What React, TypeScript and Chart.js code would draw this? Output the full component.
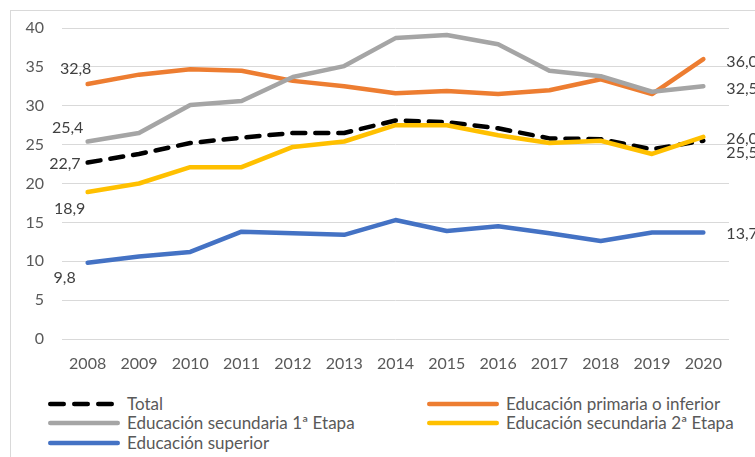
import React, { useEffect, useRef } from "react";
import { Chart, registerables } from "chart.js";

Chart.register(...registerables);

const years = ["2008", "2009", "2010", "2011", "2012", "2013", "2014", "2015", "2016", "2017", "2018", "2019", "2020"];
const total = [22.7, 23.8, 25.2, 25.9, 26.5, 26.5, 28.1, 27.9, 27.1, 25.8, 25.7, 24.4, 25.5];
const primaria = [32.8, 34.0, 34.7, 34.5, 33.2, 32.5, 31.6, 31.9, 31.5, 32.0, 33.4, 31.5, 36.0];
const secundaria1 = [25.4, 26.5, 30.1, 30.6, 33.7, 35.1, 38.7, 39.1, 37.9, 34.5, 33.8, 31.8, 32.5];
const secundaria2 = [18.9, 20.0, 22.1, 22.1, 24.7, 25.4, 27.5, 27.5, 26.2, 25.2, 25.5, 23.8, 26.0];
const superior = [9.8, 10.6, 11.2, 13.8, 13.6, 13.4, 15.3, 13.9, 14.5, 13.6, 12.6, 13.7, 13.7];
const seriesNames = [
  "Total",
  "Educación primaria o inferior",
  "Educación secundaria 1ª Etapa",
  "Educación secundaria 2ª Etapa",
  "Educación superior",
];
const yTicks = [0, 5, 10, 15, 20, 25, 30, 35, 40];

const colors = ["#000000", "#ED7D31", "#A5A5A5", "#FFC000", "#4472C4"];
const FONT = "Lato, 'Open Sans', sans-serif";

// label placement per dataset: [first point, last point]
const labelPlacement = [
  [{ dx: -7, dy: 1, align: "right" }, { dx: 23, dy: 12, align: "left" }],
  [{ dx: -12, dy: -15, align: "center" }, { dx: 23, dy: 3, align: "left" }],
  [{ dx: -20, dy: -14, align: "center" }, { dx: 23, dy: 3, align: "left" }],
  [{ dx: -18, dy: 17, align: "center" }, { dx: 23, dy: 2, align: "left" }],
  [{ dx: -23, dy: 15, align: "center" }, { dx: 23, dy: 1, align: "left" }],
];

const fmt = (v: number) => v.toFixed(1).replace(".", ",");

const labelsPlugin = {
  id: "endLabels",
  afterDatasetsDraw(chart: any) {
    const ctx = chart.ctx;
    const xs = chart.scales.x;
    const ys = chart.scales.y;
    ctx.save();
    ctx.font = `16px ${FONT}`;
    ctx.fillStyle = "#404040";
    ctx.textBaseline = "middle";
    chart.data.datasets.forEach((ds: any, i: number) => {
      const data = ds.data as number[];
      const idxs = [0, data.length - 1];
      idxs.forEach((idx, k) => {
        const p = labelPlacement[i][k];
        const x = xs.getPixelForValue(idx);
        const y = ys.getPixelForValue(data[idx]);
        ctx.textAlign = p.align;
        ctx.fillText(fmt(data[idx]), x + p.dx, y + p.dy);
      });
    });
    ctx.restore();
  },
};

const legendItems = [
  { i: 0, x: 48, y: 404 },
  { i: 1, x: 427, y: 404 },
  { i: 2, x: 48, y: 423 },
  { i: 3, x: 427, y: 423 },
  { i: 4, x: 48, y: 443 },
];

export default function App() {
  const ref = useRef<HTMLCanvasElement>(null);
  useEffect(() => {
    if (!ref.current) return;
    const series = [total, primaria, secundaria1, secundaria2, superior];
    const chart = new Chart(ref.current, {
      type: "line",
      data: {
        labels: years,
        datasets: series.map((d, i) => ({
          label: seriesNames[i],
          data: d,
          borderColor: colors[i],
          backgroundColor: colors[i],
          borderWidth: 4.5,
          borderDash: i === 0 ? [13, 10] : [],
          borderCapStyle: "round",
          borderJoinStyle: "round",
          pointRadius: 0,
          tension: 0,
          order: 5 - i,
        })),
      },
      options: {
        animation: false,
        responsive: false,
        maintainAspectRatio: false,
        layout: { padding: { left: 0, right: 26, top: 28, bottom: 0 } },
        plugins: { legend: { display: false }, tooltip: { enabled: false } },
        scales: {
          x: {
            offset: true,
            grid: { display: false, drawTicks: false },
            border: { display: false },
            ticks: { color: "#595959", font: { family: FONT, size: 16 }, padding: 15, maxRotation: 0 },
            afterFit: (s: any) => { s.height = 41; },
          },
          y: {
            min: 0,
            max: 40,
            afterBuildTicks: (s: any) => { s.ticks = yTicks.map((v) => ({ value: v })); },
            grid: { color: "#D9D9D9", lineWidth: 1, drawTicks: false },
            border: { display: false },
            ticks: { color: "#595959", font: { family: FONT, size: 16 }, padding: 18 },
            afterFit: (s: any) => { s.width = 62; },
          },
        },
      },
      plugins: [labelsPlugin],
    } as any);
    return () => chart.destroy();
  }, []);

  return (
    <div style={{ position: "absolute", left: 0, top: 0, width: 755, height: 457, overflow: "hidden", background: "#fff", fontFamily: FONT }}>
      <div style={{ position: "absolute", left: 10, top: 10, width: 900, height: 600, border: "1px solid #D9D9D9", boxSizing: "border-box" }} />
      <canvas ref={ref} width={755} height={380} style={{ position: "absolute", left: 0, top: 0, width: 755, height: 380 }} />
      {legendItems.map((it) => (
        <div key={it.i}>
          <svg style={{ position: "absolute", left: it.x - 2, top: it.y - 5 }} width={76} height={10}>
            <line
              x1={4.25}
              x2={71.75}
              y1={5}
              y2={5}
              stroke={colors[it.i]}
              strokeWidth={4.5}
              strokeLinecap="round"
              strokeDasharray={it.i === 0 ? "13.5 10.5" : undefined}
            />
          </svg>
          <div style={{ position: "absolute", left: it.x + 79, top: it.y - 11, height: 22, lineHeight: "22px", fontSize: 17, color: "#595959", whiteSpace: "nowrap" }}>
            {seriesNames[it.i]}
          </div>
        </div>
      ))}
    </div>
  );
}
